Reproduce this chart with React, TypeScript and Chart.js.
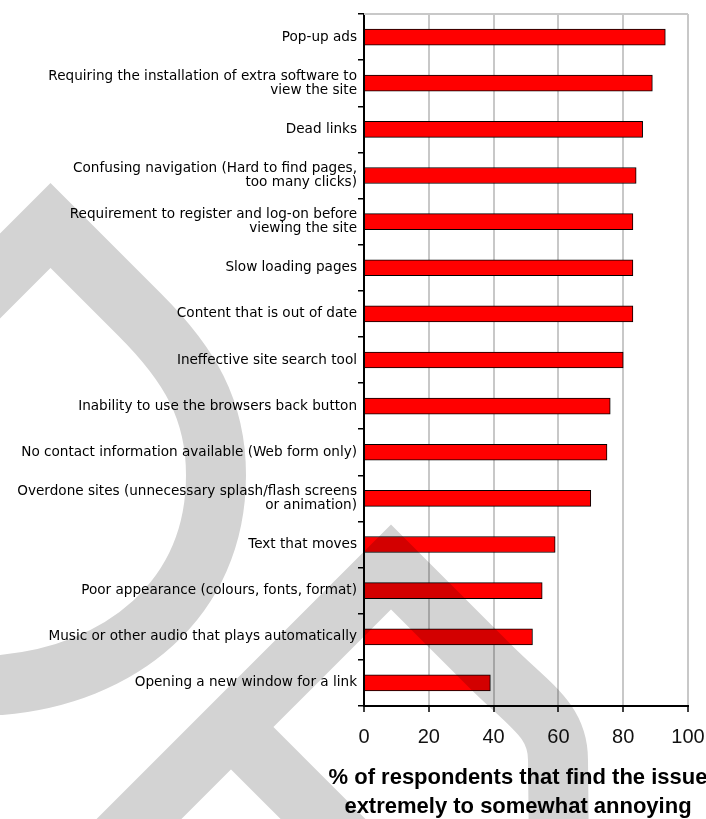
import React, { useEffect, useRef } from "react";
import { Chart, registerables } from "chart.js";

Chart.register(...registerables);

// ---- data ----
const CATEGORIES: (string | string[])[] = [
  "Pop-up ads",
  ["Requiring the installation of extra software to", "view the site"],
  "Dead links",
  ["Confusing navigation (Hard to find pages,", "too many clicks)"],
  ["Requirement to register and log-on before", "viewing the site"],
  "Slow loading pages",
  "Content that is out of date",
  "Ineffective site search tool",
  "Inability to use the browsers back button",
  "No contact information available (Web form only)",
  ["Overdone sites (unnecessary splash/flash screens", "or animation)"],
  "Text that moves",
  "Poor appearance (colours, fonts, format)",
  "Music or other audio that plays automatically",
  "Opening a new window for a link",
];

const VALUES = [93, 89, 86, 84, 83, 83, 83, 80, 76, 75, 70, 59, 55, 52, 39];

const X_TICKS = [0, 20, 40, 60, 80, 100];

const TITLE_LINES = [
  "% of respondents that find the issue",
  "extremely to somewhat annoying",
];

// ---- decorative plugins ----
const framePlugin = {
  id: "frameTop",
  beforeDatasetsDraw(chart: any) {
    const { ctx, chartArea } = chart;
    ctx.save();
    ctx.strokeStyle = "#c8c8c8";
    ctx.lineWidth = 2;
    ctx.beginPath();
    ctx.moveTo(chartArea.left, chartArea.top);
    ctx.lineTo(chartArea.right, chartArea.top);
    ctx.stroke();
    ctx.restore();
  },
};

const overlayPlugin = {
  id: "overlay",
  afterDraw(chart: any) {
    const { ctx, chartArea } = chart;
    // axis title
    ctx.save();
    ctx.fillStyle = "#000";
    ctx.font = "bold 22px 'Liberation Sans', Arial, sans-serif";
    ctx.textAlign = "center";
    ctx.textBaseline = "middle";
    const cx = (chartArea.left + chartArea.right) / 2 - 8;
    TITLE_LINES.forEach((line, i) => {
      ctx.fillText(line, cx, chartArea.bottom + 72 + i * 29);
    });
    ctx.restore();

    // watermark
    ctx.save();
    ctx.globalCompositeOperation = "multiply";
    ctx.strokeStyle = "rgb(211,211,211)";
    ctx.lineWidth = 60;
    ctx.lineJoin = "miter";
    ctx.miterLimit = 10;
    ctx.lineCap = "butt";
    ctx.beginPath();
    // left loop
    ctx.moveTo(-60, 336);
    ctx.lineTo(50.5, 225.5);
    ctx.lineTo(140, 315);
    ctx.bezierCurveTo(190, 365, 216, 410, 216, 475);
    ctx.bezierCurveTo(216, 600, 120, 675, 0, 685);
    ctx.lineTo(-40, 688);
    // chevron
    ctx.moveTo(60, 898);
    ctx.lineTo(391, 567);
    ctx.lineTo(490, 666);
    ctx.bezierCurveTo(530, 706, 558, 720, 558, 760);
    ctx.lineTo(559, 860);
    // leg
    ctx.moveTo(220, 716);
    ctx.lineTo(360, 856);
    ctx.stroke();
    ctx.restore();
  },
};

export default function App() {
  const ref = useRef<HTMLCanvasElement>(null);

  useEffect(() => {
    const canvas = ref.current;
    if (!canvas) return;
    const chart = new Chart(canvas, {
      type: "bar",
      data: {
        labels: CATEGORIES as any,
        datasets: [
          {
            data: VALUES,
            backgroundColor: "#ff0000",
            borderColor: "#000000",
            borderWidth: 1,
            borderSkipped: "start",
            barThickness: 16,
          },
        ],
      },
      options: {
        indexAxis: "y",
        animation: false,
        responsive: true,
        maintainAspectRatio: false,
        layout: { padding: { top: 14, right: 18, left: 0, bottom: 0 } },
        plugins: {
          legend: { display: false },
          tooltip: { enabled: false },
          title: { display: false },
        },
        scales: {
          x: {
            type: "linear",
            min: 0,
            max: 100,
            afterBuildTicks: (s: any) => {
              s.ticks = X_TICKS.map((v) => ({ value: v }));
            },
            afterFit: (s: any) => {
              s.height = 113;
              s.paddingLeft = 0;
              s.paddingRight = 0;
            },
            grid: {
              color: "#c8c8c8",
              lineWidth: 2,
              tickColor: "#000",
              tickWidth: 1.5,
              tickLength: 6,
              drawTicks: true,
            },
            border: { color: "#000", width: 2 },
            ticks: {
              font: { family: "'Liberation Sans', Arial, sans-serif", size: 20 },
              color: "#111",
              padding: 13,
              maxRotation: 0,
              autoSkip: false,
            },
          },
          y: {
            afterFit: (s: any) => {
              s.width = 364;
              s.paddingTop = 0;
              s.paddingBottom = 0;
            },
            grid: {
              offset: true,
              drawOnChartArea: false,
              color: "#000",
              tickLength: 6,
              lineWidth: 1.5,
            },
            border: { color: "#000", width: 2 },
            ticks: {
              font: { family: "'DejaVu Sans', sans-serif", size: 13.6, lineHeight: 1.06 },
              color: "#000",
              padding: 1,
              autoSkip: false,
            },
          },
        },
      },
      plugins: [framePlugin, overlayPlugin],
    });
    return () => chart.destroy();
  }, []);

  return (
    <div
      style={{
        position: "fixed",
        left: 0,
        top: 0,
        width: 706,
        height: 819,
        background: "#fff",
      }}
    >
      <canvas ref={ref} />
    </div>
  );
}
